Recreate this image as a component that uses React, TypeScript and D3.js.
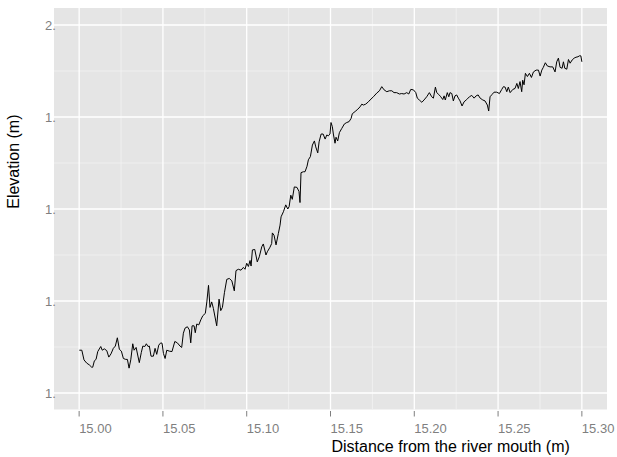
import React from "react"
import * as d3 from "d3"

const distance = [
  15.0001, 15.0016, 15.0029, 15.0045, 15.0061, 15.0075, 15.0081, 15.0091, 15.0101, 15.0111,
  15.0129, 15.0138, 15.015, 15.0165, 15.0177, 15.019, 15.0204, 15.0216, 15.0228, 15.024,
  15.0252, 15.0264, 15.0278, 15.0288, 15.0298, 15.0308, 15.032, 15.0328, 15.034, 15.0359,
  15.0371, 15.038, 15.0392, 15.0401, 15.0411, 15.0419, 15.0429, 15.0443, 15.0453, 15.0463,
  15.0475, 15.0487, 15.0495, 15.0503, 15.0513, 15.0523, 15.0538, 15.0554, 15.0571, 15.0586,
  15.0602, 15.0612, 15.0622, 15.0632, 15.0646, 15.0658, 15.0666, 15.0674, 15.0686, 15.0693,
  15.0702, 15.0714, 15.0726, 15.0738, 15.0753, 15.0762, 15.0772, 15.0781, 15.0791, 15.0801,
  15.0821, 15.0835, 15.0845, 15.0855, 15.0867, 15.0881, 15.0896, 15.0911, 15.0926, 15.0936,
  15.095, 15.0966, 15.098, 15.099, 15.1, 15.101, 15.102, 15.1026, 15.1034, 15.1048,
  15.1063, 15.1075, 15.109, 15.1099, 15.1115, 15.1123, 15.1139, 15.1149, 15.1153, 15.1163,
  15.1175, 15.1189, 15.1199, 15.1205, 15.1219, 15.1233, 15.1245, 15.1253, 15.1263, 15.1272,
  15.1284, 15.13, 15.1312, 15.1318, 15.1324, 15.1338, 15.1348, 15.136, 15.1368, 15.138,
  15.1392, 15.1404, 15.1412, 15.1424, 15.1432, 15.1444, 15.1456, 15.1468, 15.1478, 15.1487,
  15.1497, 15.1503, 15.1511, 15.1517, 15.1527, 15.1533, 15.1543, 15.1553, 15.1567, 15.1583,
  15.1597, 15.1611, 15.1623, 15.163, 15.1647, 15.1663, 15.1676, 15.1687, 15.1696, 15.171,
  15.1726, 15.1736, 15.1756, 15.1776, 15.1792, 15.1806, 15.182, 15.1836, 15.1851, 15.1866,
  15.1879, 15.1895, 15.1911, 15.1925, 15.1939, 15.1955, 15.1967, 15.1979, 15.1995, 15.2009,
  15.2018, 15.203, 15.2045, 15.2058, 15.2074, 15.209, 15.2104, 15.2114, 15.2126, 15.2134,
  15.2146, 15.2158, 15.217, 15.2178, 15.2185, 15.2197, 15.2206, 15.2213, 15.2224, 15.2233,
  15.2243, 15.2253, 15.2263, 15.2273, 15.2285, 15.2297, 15.2313, 15.2329, 15.2343, 15.2357,
  15.2369, 15.2381, 15.2393, 15.2409, 15.2422, 15.2436, 15.2444, 15.2452, 15.2464, 15.2476,
  15.2492, 15.2508, 15.2522, 15.2532, 15.2542, 15.2552, 15.2561, 15.2572, 15.2588, 15.2601,
  15.2612, 15.2621, 15.2631, 15.2641, 15.2647, 15.2655, 15.2663, 15.2675, 15.2687, 15.2699,
  15.2711, 15.2727, 15.2741, 15.2751, 15.2761, 15.277, 15.2782, 15.2794, 15.281, 15.2826,
  15.284, 15.285, 15.286, 15.287, 15.2882, 15.289, 15.2898, 15.291, 15.292, 15.293,
  15.2942, 15.2954, 15.2965, 15.2977, 15.2985, 15.2994, 15.3,
]

const elevation = [
  1.293, 1.293, 1.272, 1.265, 1.261, 1.256, 1.256, 1.27, 1.273, 1.29,
  1.301, 1.293, 1.296, 1.292, 1.278, 1.285, 1.297, 1.302, 1.32, 1.295,
  1.291, 1.275, 1.273, 1.273, 1.254, 1.272, 1.307, 1.293, 1.299, 1.266,
  1.288, 1.302, 1.301, 1.307, 1.301, 1.302, 1.28, 1.28, 1.297, 1.284,
  1.304, 1.309, 1.308, 1.286, 1.275, 1.293, 1.291, 1.29, 1.312, 1.309,
  1.302, 1.299, 1.33, 1.341, 1.344, 1.337, 1.309, 1.346, 1.346, 1.331,
  1.35, 1.348, 1.359, 1.368, 1.373, 1.398, 1.434, 1.386, 1.398, 1.384,
  1.346, 1.404, 1.379, 1.386, 1.418, 1.447, 1.449, 1.444, 1.422, 1.466,
  1.469, 1.467, 1.473, 1.469, 1.482, 1.475, 1.488, 1.476, 1.511, 1.512,
  1.485, 1.496, 1.518, 1.524, 1.5, 1.507, 1.517, 1.525, 1.548, 1.543,
  1.522, 1.547, 1.565, 1.583, 1.594, 1.609, 1.6, 1.605, 1.63, 1.621,
  1.648, 1.647, 1.638, 1.614, 1.679, 1.681, 1.681, 1.693, 1.707, 1.714,
  1.739, 1.748, 1.735, 1.722, 1.746, 1.763, 1.763, 1.752, 1.761, 1.759,
  1.763, 1.788, 1.779, 1.763, 1.743, 1.756, 1.748, 1.766, 1.775, 1.785,
  1.788, 1.79, 1.797, 1.807, 1.812, 1.817, 1.822, 1.828, 1.826, 1.828,
  1.833, 1.837, 1.844, 1.852, 1.857, 1.866, 1.859, 1.855, 1.857, 1.857,
  1.853, 1.853, 1.85, 1.851, 1.85, 1.853, 1.85, 1.86, 1.859, 1.853,
  1.841, 1.837, 1.832, 1.837, 1.844, 1.853, 1.844, 1.841, 1.865, 1.853,
  1.849, 1.844, 1.838, 1.846, 1.837, 1.853, 1.844, 1.853, 1.851, 1.835,
  1.846, 1.848, 1.841, 1.835, 1.824, 1.833, 1.838, 1.844, 1.847, 1.841,
  1.846, 1.848, 1.841, 1.837, 1.835, 1.826, 1.813, 1.844, 1.849, 1.854,
  1.854, 1.851, 1.86, 1.866, 1.865, 1.855, 1.865, 1.853, 1.86, 1.862,
  1.873, 1.862, 1.877, 1.855, 1.88, 1.87, 1.895, 1.888, 1.895, 1.886,
  1.898, 1.902, 1.902, 1.889, 1.902, 1.908, 1.918, 1.911, 1.909, 1.909,
  1.898, 1.92, 1.928, 1.908, 1.906, 1.92, 1.906, 1.904, 1.925, 1.917,
  1.924, 1.928, 1.93, 1.931, 1.933, 1.933, 1.92,
]

const xTicks = [15.0, 15.05, 15.1, 15.15, 15.2, 15.25, 15.3]
const xTickLabels = ["15.00", "15.05", "15.10", "15.15", "15.20", "15.25", "15.30"]
const yTicks = [1.2, 1.4, 1.6, 1.8, 2.0]
// the y labels are cut off in the original, only the first two characters show
const yTickLabels = ["1.", "1.", "1.", "1.", "2."]

const W = 617
const H = 457
const panel = { left: 54, right: 607, top: 8, bottom: 409.5 }
const font = "'Liberation Sans', Arial, Helvetica, sans-serif"

export default function App() {
  const x = d3.scaleLinear().domain([14.985, 15.315]).range([panel.left, panel.right])
  const y = d3.scaleLinear().domain([1.163, 2.037]).range([410, panel.top])

  const points = distance.map((d, i) => [d, elevation[i]] as [number, number])
  const line = d3
    .line<[number, number]>()
    .x(d => x(d[0]))
    .y(d => y(d[1]))

  const xMinor = xTicks.slice(1).map((t, i) => (t + xTicks[i]) / 2)
  const yMinor = yTicks.slice(1).map((t, i) => (t + yTicks[i]) / 2)

  return (
    <svg
      width={W}
      height={H}
      style={{ position: "absolute", left: 0, top: 0, background: "#fff" }}
      fontFamily={font}
    >
      <rect
        x={panel.left}
        y={panel.top}
        width={panel.right - panel.left}
        height={panel.bottom - panel.top}
        fill="#e5e5e5"
      />
      {xMinor.map(t => (
        <line key={"xm" + t} x1={x(t)} x2={x(t)} y1={panel.top} y2={panel.bottom} stroke="#f2f2f2" strokeWidth={0.8} />
      ))}
      {yMinor.map(t => (
        <line key={"ym" + t} x1={panel.left} x2={panel.right} y1={y(t)} y2={y(t)} stroke="#f2f2f2" strokeWidth={0.8} />
      ))}
      {xTicks.map(t => (
        <line key={"xg" + t} x1={x(t)} x2={x(t)} y1={panel.top} y2={panel.bottom} stroke="#fff" strokeWidth={1.3} />
      ))}
      {yTicks.map(t => (
        <line key={"yg" + t} x1={panel.left} x2={panel.right} y1={y(t)} y2={y(t)} stroke="#fff" strokeWidth={1.3} />
      ))}

      <path d={line(points) || ""} fill="none" stroke="#000" strokeWidth={1} strokeLinejoin="round" />

      {xTicks.map((t, i) => (
        <g key={"xt" + t}>
          <line x1={x(t)} x2={x(t)} y1={panel.bottom + 1.5} y2={panel.bottom + 7} stroke="#7f7f7f" strokeWidth={1} />
          <text x={x(t)} y={433.3} fontSize={13} fill="#7f7f7f">
            {xTickLabels[i]}
          </text>
        </g>
      ))}
      {yTicks.map((t, i) => (
        <text key={"yt" + t} x={45} y={y(t) + 4.6} fontSize={13} fill="#7f7f7f">
          {yTickLabels[i]}
        </text>
      ))}

      <text x={(panel.left + panel.right) / 2 + 1} y={451.7} fontSize={16} fill="#000">
        Distance from the river mouth (m)
      </text>
      <text
        transform={`translate(19,${(panel.top + panel.bottom) / 2}) rotate(-90)`}
        fontSize={16}
        fill="#000"
      >
        Elevation (m)
      </text>
    </svg>
  )
}
